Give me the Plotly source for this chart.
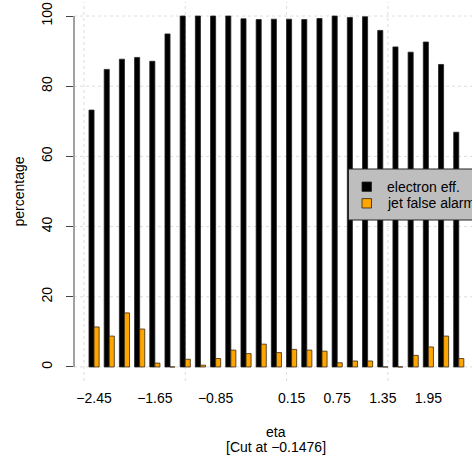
import plotly.graph_objects as go

# ---- data ----
eta = [round(-2.45 + 0.2 * i, 2) for i in range(25)]
electron_eff = [73.2, 84.8, 87.7, 88.2, 87.1, 94.9, 100.0, 100.0, 100.0, 100.0,
                99.2, 99.0, 99.1, 99.1, 99.0, 99.3, 100.0, 99.6, 99.8, 95.9,
                91.2, 89.7, 92.6, 86.2, 66.9]
jet_false_alarm = [11.4, 8.8, 15.4, 10.8, 1.1, 0.0, 2.2, 0.5, 2.4, 4.8,
                   3.8, 6.5, 4.1, 5.0, 4.8, 4.5, 1.2, 1.7, 1.7, 0.0,
                   0.0, 3.3, 5.7, 8.8, 2.4]
tick_vals = [-2.45, -1.65, -0.85, 0.15, 0.75, 1.35, 1.95]
tick_text = ["\u22122.45", "\u22121.65", "\u22120.85", "0.15", "0.75", "1.35", "1.95"]
y_ticks = [0, 20, 40, 60, 80, 100]
series_names = ["electron eff.", "jet false alarm"]
series_colors = ["#000000", "#FFA500"]

FONT = "Liberation Sans, Arial, Helvetica, sans-serif"
FS = 14
W, H = 472, 461
ML, MT, MB = 74, 2, 80
PW, PH = W - ML, H - MT - MB


def px_x(p):
    return (p - ML) / PW


def px_y(p):
    return (H - MB - p) / PH


fig = go.Figure()
fig.add_trace(go.Bar(x=eta, y=electron_eff, name=series_names[0], showlegend=False,
                     marker=dict(color=series_colors[0], line=dict(color="#222222", width=0.8))))
fig.add_trace(go.Bar(x=eta, y=jet_false_alarm, name=series_names[1], showlegend=False,
                     marker=dict(color=series_colors[1], line=dict(color="#3a2a10", width=0.8))))

step = eta[1] - eta[0]
x_lo = eta[0] - step * (2 + 1.96) / 3
x_hi = eta[0] + 4.974

shapes = []
# faint dotted grid
for v in y_ticks:
    shapes.append(dict(type="line", xref="paper", x0=0, x1=1, yref="y", y0=v, y1=v,
                       line=dict(color="#DDDDDD", width=1, dash="dot"), layer="below"))
for u in [0, 20, 40, 60]:
    xv = eta[0] + (u - 2) * step / 3
    shapes.append(dict(type="line", xref="x", x0=xv, x1=xv, yref="paper", y0=0, y1=1,
                       line=dict(color="#DDDDDD", width=1, dash="dot"), layer="below"))
# R-style y axis line spanning only 0..100
shapes.append(dict(type="line", xref="paper", x0=0, x1=0, yref="y", y0=0, y1=100,
                   line=dict(color="#444444", width=1), layer="above"))

# legend box (R legend, cut off at the right edge of the picture)
shapes.append(dict(type="rect", xref="paper", yref="paper",
                   x0=px_x(348.5), x1=px_x(490), y0=px_y(220), y1=px_y(169),
                   fillcolor="#BEBEBE", line=dict(color="#222222", width=1), layer="above"))
annotations = []
for k, (nm, col) in enumerate(zip(series_names, series_colors)):
    cy = 186.7 + k * 16.6
    shapes.append(dict(type="rect", xref="paper", yref="paper",
                       x0=px_x(362), x1=px_x(371.5), y0=px_y(cy + 4.7), y1=px_y(cy - 4.7),
                       fillcolor=col, line=dict(color="#222222", width=0.8), layer="above"))
    annotations.append(dict(text=nm, xref="paper", yref="paper", x=px_x(385), y=px_y(cy),
                            showarrow=False, xanchor="left", yanchor="middle",
                            font=dict(size=FS, color="black", family=FONT)))

annotations += [
    dict(text="percentage", xref="paper", yref="paper", x=px_x(18), y=0.5,
         textangle=-90, showarrow=False, xanchor="center", yanchor="middle",
         font=dict(size=FS, color="black", family=FONT)),
    dict(text="eta", xref="paper", yref="paper", x=px_x(276), y=px_y(432),
         showarrow=False, xanchor="center", yanchor="middle",
         font=dict(size=FS, color="black", family=FONT)),
    dict(text="[Cut at \u22120.1476]", xref="paper", yref="paper", x=px_x(276),
         y=px_y(447), showarrow=False, xanchor="center", yanchor="middle",
         font=dict(size=FS, color="black", family=FONT)),
]

fig.update_layout(
    width=W, height=H,
    margin=dict(l=ML, r=0, t=MT, b=MB),
    paper_bgcolor="white", plot_bgcolor="white",
    barmode="group", bargap=1 / 3, bargroupgap=0,
    showlegend=False,
    font=dict(family=FONT, size=FS, color="black"),
    xaxis=dict(range=[x_lo, x_hi], tickmode="array", tickvals=tick_vals, ticktext=tick_text,
               showgrid=False, zeroline=False, showline=False, ticks="",
               ticklabelstandoff=7, tickfont=dict(size=FS, color="black")),
    yaxis=dict(range=[-4, 104], tickmode="array", tickvals=y_ticks,
               showgrid=False, zeroline=False, showline=False,
               ticks="outside", ticklen=7, tickcolor="#444444", tickwidth=1,
               tickangle=-90, ticklabelstandoff=8, tickfont=dict(size=FS, color="black")),
    shapes=shapes, annotations=annotations,
)

fig.write_html("out.html")
